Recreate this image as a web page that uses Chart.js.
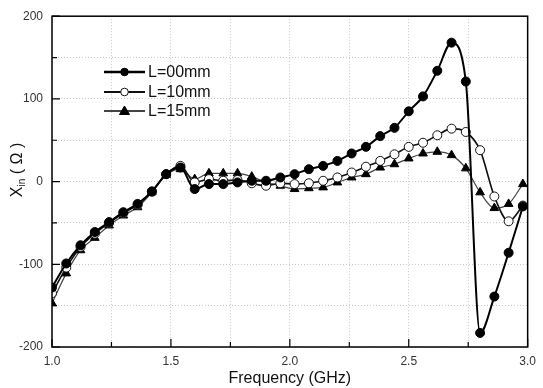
<!DOCTYPE html>
<html>
<head>
<meta charset="utf-8">
<script src="https://cdn.jsdelivr.net/npm/chart.js@4/dist/chart.umd.min.js"></script>
<style>
  body { margin: 0; background: #fff; }
  #wrap { width: 543px; height: 388px; }
</style>
</head>
<body>
<div id="wrap"><canvas id="XinChart" width="543" height="388"></canvas></div>
<script>
// frequency points (GHz)
let freq = [1.00, 1.06, 1.12, 1.18, 1.24, 1.30, 1.36, 1.42, 1.48, 1.54,
            1.60, 1.66, 1.72, 1.78, 1.84, 1.90, 1.96, 2.02, 2.08, 2.14,
            2.20, 2.26, 2.32, 2.38, 2.44, 2.50, 2.56, 2.62, 2.68, 2.74,
            2.80, 2.86, 2.92, 2.98]

let xinL00 = [-128, -99, -77, -61, -49, -37, -27, -12, 9, 17,
              -9, -3, -3, -1, 1, 1, 5, 9, 15, 19,
              25, 34, 42, 55, 65, 85, 103, 134, 168, 121,
              -183, -139, -86, -30]

let xinL10 = [-135, -104, -79, -63, -50, -38, -28, -12, 9, 19,
              -1, 3, 1, 2, -2, -5, -2, -3, -2, 1,
              5, 11, 18, 25, 33, 42, 47, 56, 64, 60,
              38, -18, -48, -29]

let xinL15 = [-147, -111, -83, -68, -53, -41, -31, -13, 8, 15,
              3, 10, 10, 10, 6, -1, -5, -9, -8, -7,
              -1, 5, 9, 17, 21, 28, 34, 36, 32, 16,
              -13, -32, -27, -3]

let seriesNames = ["L=00mm", "L=10mm", "L=15mm"]
let xTickLabels = [1.0, 1.5, 2.0, 2.5, 3.0]
let yTickLabels = [-200, -100, 0, 100, 200]

const FONT = "'Liberation Sans', Arial, sans-serif"

function toPoints(ys) {
  return ys.map((y, i) => ({ x: freq[i], y: y }))
}

let datasets = [
  { label: seriesNames[0], data: toPoints(xinL00), borderColor: '#000', borderWidth: 2,
    pointStyle: 'circle', pointRadius: 4.5, pointBackgroundColor: '#000', pointBorderColor: '#000', pointBorderWidth: 1 },
  { label: seriesNames[1], data: toPoints(xinL10), borderColor: '#111', borderWidth: 1.6,
    pointStyle: 'circle', pointRadius: 4.5, pointBackgroundColor: '#fff', pointBorderColor: '#111', pointBorderWidth: 1 },
  { label: seriesNames[2], data: toPoints(xinL15), borderColor: '#444', borderWidth: 1.2,
    pointStyle: 'triangle', pointRadius: 5, pointBackgroundColor: '#000', pointBorderColor: '#000', pointBorderWidth: 1 }
]
datasets.forEach(d => { d.cubicInterpolationMode = 'monotone'; d.fill = false })

function isLabel(v, list) {
  return list.some(t => Math.abs(t - v) < 1e-6)
}

// frame, inward ticks, legend and y title
const decorations = {
  id: 'decorations',
  afterDraw(chart) {
    const ctx = chart.ctx, area = chart.chartArea
    const xs = chart.scales.x, ys = chart.scales.y
    ctx.save()
    ctx.strokeStyle = '#000'
    ctx.lineWidth = 1.5
    ctx.strokeRect(area.left, area.top, area.right - area.left, area.bottom - area.top)

    ctx.lineWidth = 1.2
    ctx.beginPath()
    xs.ticks.forEach(t => {
      const px = xs.getPixelForValue(t.value)
      const len = isLabel(t.value, xTickLabels) ? 8 : 5
      ctx.moveTo(px, area.bottom)
      ctx.lineTo(px, area.bottom - len)
    })
    ys.ticks.forEach(t => {
      const py = ys.getPixelForValue(t.value)
      const len = isLabel(t.value, yTickLabels) ? 8 : 5
      ctx.moveTo(area.left, py)
      ctx.lineTo(area.left + len, py)
    })
    ctx.stroke()

    // legend
    const rows = [72, 92, 111]
    ctx.font = '16px ' + FONT
    ctx.textBaseline = 'middle'
    chart.data.datasets.forEach((d, i) => {
      const y = rows[i]
      ctx.strokeStyle = d.borderColor
      ctx.lineWidth = d.borderWidth + 0.6
      ctx.beginPath()
      ctx.moveTo(104, y)
      ctx.lineTo(145, y)
      ctx.stroke()
      ctx.fillStyle = d.pointBackgroundColor
      ctx.strokeStyle = d.pointBorderColor
      ctx.lineWidth = 1
      ctx.beginPath()
      if (d.pointStyle === 'triangle') {
        ctx.moveTo(124.5, y - 5)
        ctx.lineTo(129.5, y + 3.5)
        ctx.lineTo(119.5, y + 3.5)
        ctx.closePath()
      } else {
        ctx.arc(124.5, y, 3.8, 0, Math.PI * 2)
      }
      ctx.fill()
      ctx.stroke()
      ctx.fillStyle = '#111'
      ctx.fillText(d.label, 148, y + 1)
    })

    // y axis title: X_in ( Ω )
    ctx.translate(16, 170)
    ctx.rotate(-Math.PI / 2)
    ctx.fillStyle = '#111'
    ctx.textBaseline = 'alphabetic'
    const big = '16px ' + FONT, small = '10px ' + FONT
    ctx.font = big
    const wX = ctx.measureText('X').width
    const wRest = ctx.measureText(' ( Ω )').width
    ctx.font = small
    const wIn = ctx.measureText('in').width
    let x0 = -(wX + wIn + wRest) / 2
    ctx.font = big
    ctx.fillText('X', x0, 6)
    ctx.font = small
    ctx.fillText('in', x0 + wX, 9)
    ctx.font = big
    ctx.fillText(' ( Ω )', x0 + wX + wIn, 6)
    ctx.restore()
  }
}

let XinChart = new Chart(document.getElementById('XinChart'), {
  type: 'line',
  data: { datasets: datasets },
  options: {
    responsive: false,
    animation: false,
    layout: { padding: { top: 14, right: 12, left: 0, bottom: 0 } },
    plugins: { legend: { display: false }, tooltip: { enabled: false } },
    scales: {
      x: {
        type: 'linear',
        min: 1, max: 3,
        afterFit: s => { s.height = 41 },
        ticks: {
          stepSize: 0.25, autoSkip: false, maxRotation: 0, padding: 7,
          color: '#333', font: { size: 12, family: FONT },
          callback: v => isLabel(v, xTickLabels) ? v.toFixed(1) : ''
        },
        grid: { color: '#c8c8c8', lineWidth: 1, drawTicks: false },
        border: { display: false, dash: [1, 2] },
        title: {
          display: true, text: 'Frequency (GHz)', color: '#111',
          font: { size: 16, family: FONT }, padding: { top: 0, bottom: 0 }
        }
      },
      y: {
        min: -200, max: 200,
        afterFit: s => { s.width = 52 },
        ticks: {
          stepSize: 50, padding: 9,
          color: '#333', font: { size: 12, family: FONT },
          callback: v => isLabel(v, yTickLabels) ? v : ''
        },
        grid: { color: '#c8c8c8', lineWidth: 1, drawTicks: false },
        border: { display: false, dash: [1, 2] }
      }
    }
  },
  plugins: [decorations]
});
</script>
</body>
</html>
